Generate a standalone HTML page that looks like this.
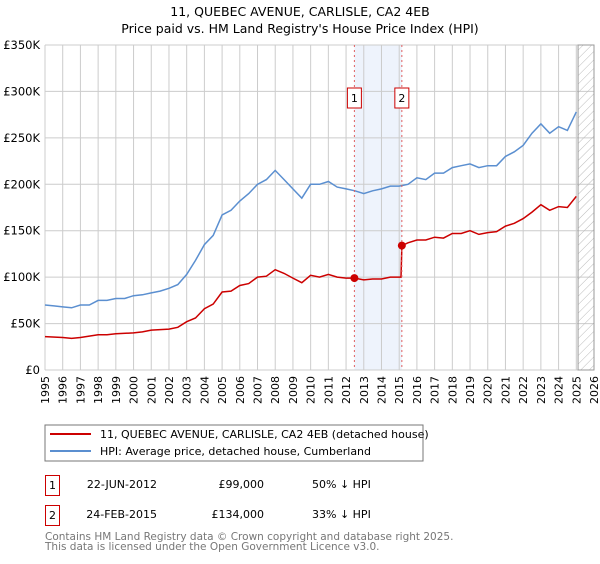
<!DOCTYPE html>
<html><head><meta charset="utf-8"><style>
body{margin:0;background:#fff;font-family:"DejaVu Sans","Liberation Sans",sans-serif;}
svg text{font-family:"DejaVu Sans","Liberation Sans",sans-serif;}
</style></head><body>
<svg id="chart" width="600" height="560" viewBox="0 0 600 560">
<text x="300" y="16" text-anchor="middle" font-size="12.5" fill="#000">11, QUEBEC AVENUE, CARLISLE, CA2 4EB</text>
<text x="300" y="33" text-anchor="middle" font-size="12.5" fill="#000">Price paid vs. HM Land Registry's House Price Index (HPI)</text>
<g id="grid"></g><g id="series"></g><g id="axes"></g>
<rect x="45" y="425" width="378" height="36" fill="#fff" stroke="#777"/>
<line x1="50" y1="434" x2="91" y2="434" stroke="#cc0000" stroke-width="2"/>
<text x="100" y="438" font-size="11">11, QUEBEC AVENUE, CARLISLE, CA2 4EB (detached house)</text>
<line x1="50" y1="451" x2="91" y2="451" stroke="#5b8fd0" stroke-width="2"/>
<text x="100" y="455" font-size="11">HPI: Average price, detached house, Cumberland</text>
<rect x="45.5" y="475.5" width="14" height="20" fill="#fff" stroke="#cc0000"/>
<text x="52.5" y="489" font-size="11" text-anchor="middle">1</text>
<text x="157" y="488" font-size="11" text-anchor="end">22-JUN-2012</text>
<text x="264" y="488" font-size="11" text-anchor="end">£99,000</text>
<text x="312" y="488" font-size="11">50% ↓ HPI</text>
<rect x="45.5" y="505.5" width="14" height="20" fill="#fff" stroke="#cc0000"/>
<text x="52.5" y="519" font-size="11" text-anchor="middle">2</text>
<text x="157" y="518" font-size="11" text-anchor="end">24-FEB-2015</text>
<text x="264" y="518" font-size="11" text-anchor="end">£134,000</text>
<text x="312" y="518" font-size="11">33% ↓ HPI</text>
<text x="45" y="540" font-size="10.5" fill="#777">Contains HM Land Registry data © Crown copyright and database right 2025.</text>
<text x="45" y="550" font-size="10.5" fill="#777">This data is licensed under the Open Government Licence v3.0.</text>
</svg>
<script>
const yearTicks=[1995,1996,1997,1998,1999,2000,2001,2002,2003,2004,2005,2006,2007,2008,2009,2010,2011,2012,2013,2014,2015,2016,2017,2018,2019,2020,2021,2022,2023,2024,2025,2026];
const valueTicks=[0,50,100,150,200,250,300,350];
const valueTickLabels=["£0","£50K","£100K","£150K","£200K","£250K","£300K","£350K"];
const hpiYears=[1995,1995.5,1996,1996.5,1997,1997.5,1998,1998.5,1999,1999.5,2000,2000.5,2001,2001.5,2002,2002.5,2003,2003.5,2004,2004.5,2005,2005.5,2006,2006.5,2007,2007.5,2008,2008.5,2009,2009.5,2010,2010.5,2011,2011.5,2012,2012.5,2013,2013.5,2014,2014.5,2015,2015.5,2016,2016.5,2017,2017.5,2018,2018.5,2019,2019.5,2020,2020.5,2021,2021.5,2022,2022.5,2023,2023.5,2024,2024.5,2025];
const hpiValues=[70,69,68,67,70,70,75,75,77,77,80,81,83,85,88,92,103,118,135,145,167,172,182,190,200,205,215,205,195,185,200,200,203,197,195,193,190,193,195,198,198,200,207,205,212,212,218,220,222,218,220,220,230,235,242,255,265,255,262,258,278];
const propYears=[1995,1996,1996.5,1997,1998,1998.5,1999,2000,2000.5,2001,2002,2002.5,2003,2003.5,2004,2004.5,2005,2005.5,2006,2006.5,2007,2007.5,2008,2008.5,2009,2009.5,2010,2010.5,2011,2011.5,2012,2012.47,2013,2013.5,2014,2014.5,2015.1,2015.15,2015.5,2016,2016.5,2017,2017.5,2018,2018.5,2019,2019.5,2020,2020.5,2021,2021.5,2022,2022.5,2023,2023.5,2024,2024.5,2025];
const propValues=[36,35,34,35,38,38,39,40,41,43,44,46,52,56,66,71,84,85,91,93,100,101,108,104,99,94,102,100,103,100,99,99,97,98,98,100,100,134,137,140,140,143,142,147,147,150,146,148,149,155,158,163,170,178,172,176,175,187];
const saleYears=[2012.47,2015.15];
const saleValues=[99,134];
const saleLabels=["1","2"];

const X0=45,X1=594,Y0=370,Y1=45,NS="http://www.w3.org/2000/svg";
const xs=y=>X0+(y-1995)/(2026-1995)*(X1-X0);
const ys=v=>Y0-v/350*(Y0-Y1);
function mk(tag,attrs,parent){const e=document.createElementNS(NS,tag);for(const k in attrs)e.setAttribute(k,attrs[k]);parent.appendChild(e);return e;}
const grid=document.getElementById('grid'),ser=document.getElementById('series'),axes=document.getElementById('axes');
// shaded region
const sh=mk('rect',{x:xs(saleYears[0]),y:Y1,width:xs(saleYears[1])-xs(saleYears[0]),height:Y0-Y1,fill:'#eef3fc'},grid);


yearTicks.forEach(y=>{const l=mk('line',{x1:xs(y),x2:xs(y),y1:Y1,y2:Y0,stroke:'#ccc','stroke-width':1},grid);


const t=mk('text',{x:0,y:0,'font-size':11,'text-anchor':'end',transform:`translate(${xs(y)+4},${Y0+6}) rotate(-90)`},axes);t.textContent=y;

});
valueTicks.forEach((v,i)=>{const l=mk('line',{x1:X0,x2:X1,y1:ys(v),y2:ys(v),stroke:'#ccc','stroke-width':1},grid);


const t=mk('text',{x:X0-5,y:ys(v)+4,'font-size':11.5,'text-anchor':'end'},axes);t.textContent=valueTickLabels[i];

});
// hatch future
const defs=mk('defs',{},grid);const p=mk('pattern',{id:'hatch',width:6,height:6,patternUnits:'userSpaceOnUse',patternTransform:'rotate(45)'},defs);
mk('line',{x1:0,y1:0,x2:0,y2:6,stroke:'#bbb','stroke-width':1},p);
const hx=xs(2025.1);
const hr=mk('rect',{x:hx,y:Y1,width:X1-hx,height:Y0-Y1,fill:'url(#hatch)',stroke:'#999'},grid);


function line(xa,va,color,name){const d=xa.map((x,i)=>(i?'L':'M')+xs(x).toFixed(1)+','+ys(va[i]).toFixed(1)).join('');
const e=mk('path',{d,fill:'none',stroke:color,'stroke-width':1.5},ser);

}
line(hpiYears,hpiValues,'#5b8fd0','hpi-line');
line(propYears,propValues,'#cc0000','property-line');
saleYears.forEach((y,i)=>{
const v=mk('line',{x1:xs(y),x2:xs(y),y1:Y1,y2:Y0,stroke:'#e06060','stroke-dasharray':'2,3','stroke-width':1},ser);


const c=mk('circle',{cx:xs(y),cy:ys(saleValues[i]),r:4,fill:'#cc0000'},ser);


const b=mk('rect',{x:xs(y)-7,y:96-8,width:14,height:20,fill:'#fff',stroke:'#cc0000'},ser);


const t=mk('text',{x:xs(y),y:102,'font-size':11,'text-anchor':'middle'},ser);t.textContent=saleLabels[i];

});
</script>
</body></html>
